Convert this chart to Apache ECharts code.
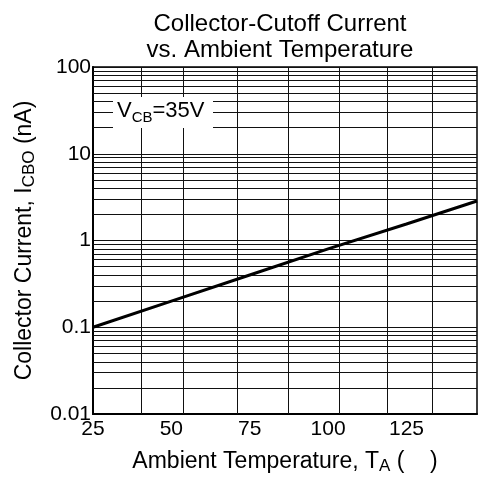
<!DOCTYPE html>
<html>
<head>
<meta charset="utf-8">
<script src="https://cdn.jsdelivr.net/npm/echarts@6/dist/echarts.min.js"></script>
<style>html,body{margin:0;padding:0;background:#fff;}#c{width:478px;height:480px;}</style>
</head>
<body>
<div id="c"></div>
<script>
// Data
var temps = [25, 50, 75, 100, 125, 147.5];
var iCbo = [0.1, 0.2, 0.4, 0.8, 1.55, 2.85];
var xTicks = [25, 50, 75, 100, 125];
var yTicks = [0.01, 0.1, 1, 10, 100];
// decorative vertical grid positions (°C)
var vGridTemps = [40.3, 53.8, 71, 87.3, 103.6, 118.9, 133.3];
// minor log gridlines: multipliers within each decade
var minorMult = [2, 3, 4, 5, 6, 7, 8, 9];
var decades = [0.01, 0.1, 1, 10];

var FONT = 'Liberation Sans, Arial, sans-serif';
var minorLines = [];
decades.forEach(function (d) { minorMult.forEach(function (m) { minorLines.push({ yAxis: +(d * m).toPrecision(3) }); }); });
var vLines = vGridTemps.map(function (t) { return { xAxis: t }; });

var richName = {
  a: { fontSize: 23, lineHeight: 23, verticalAlign: 'top', color: '#000', fontFamily: FONT },
  s: { fontSize: 17, lineHeight: 25, verticalAlign: 'bottom', color: '#000', fontFamily: FONT }
};

var chart = echarts.init(document.getElementById('c'), null, { renderer: 'canvas' });
chart.setOption({
  animation: false,
  backgroundColor: '#fff',
  grid: { left: 93, right: 1, top: 67, bottom: 64, show: true, borderColor: '#000', borderWidth: 1.5, containLabel: false },
  xAxis: {
    type: 'value', min: 25, max: 147.5, interval: 25,
    axisLine: { show: true, lineStyle: { color: '#000', width: 2 } },
    axisTick: { show: false },
    splitLine: { show: false },
    axisLabel: { showMaxLabel: false, color: '#000', fontFamily: FONT, fontSize: 21, margin: 5,
      formatter: function (v) { return xTicks.indexOf(v) >= 0 ? String(v) : ''; } },
    name: '{a|Ambient Temperature, T}{s|A}{a| (    )}',
    nameLocation: 'middle', nameGap: 36,
    nameTextStyle: { color: '#000', fontFamily: FONT, rich: richName }
  },
  yAxis: {
    type: 'log', logBase: 10, min: 0.01, max: 100,
    axisLine: { show: true, lineStyle: { color: '#000', width: 2 } },
    axisTick: { show: false },
    splitLine: { show: true, lineStyle: { color: '#111', width: 1 } },
    axisLabel: { color: '#000', fontFamily: FONT, fontSize: 21, margin: 2,
      formatter: function (v) { for (var i = 0; i < yTicks.length; i++) { if (Math.abs(v - yTicks[i]) < yTicks[i] * 1e-6) return String(yTicks[i]); } return ''; } },
    name: '{a|Collector Current, I}{s|CBO}{a| (nA)}',
    nameLocation: 'middle', nameGap: 55,
    nameTextStyle: { color: '#000', fontFamily: FONT, rich: richName }
  },
  graphic: [
    { type: 'text', x: 280, y: 11, z: 100,
      style: { text: 'Collector-Cutoff Current\nvs. Ambient Temperature', textAlign: 'center',
        font: '24px ' + FONT, fill: '#000', lineHeight: 26 } },
    { type: 'rect', x: 113, y: 97, z: 99, shape: { width: 100, height: 31 }, style: { fill: '#fff' } },
    { type: 'text', x: 117, y: 100, z: 100,
      style: { text: '{a|V}{s|CB}{a|=35V}',
        rich: { a: { fontSize: 22, lineHeight: 22, verticalAlign: 'top', fill: '#000', fontFamily: FONT },
                s: { fontSize: 15, lineHeight: 25, verticalAlign: 'bottom', fill: '#000', fontFamily: FONT } } } }
  ],
  series: [
    { type: 'line', data: [], z: 1, silent: true,
      markLine: { silent: true, symbol: ['none', 'none'], label: { show: false }, animation: false,
        lineStyle: { color: '#111', width: 1, type: 'solid' },
        data: minorLines.concat(vLines) } },
    { type: 'line', z: 5, showSymbol: false, symbol: 'none', smooth: false,
      lineStyle: { color: '#000', width: 3 },
      data: temps.map(function (t, i) { return [t, iCbo[i]]; }) }
  ]
});
</script>
</body>
</html>
